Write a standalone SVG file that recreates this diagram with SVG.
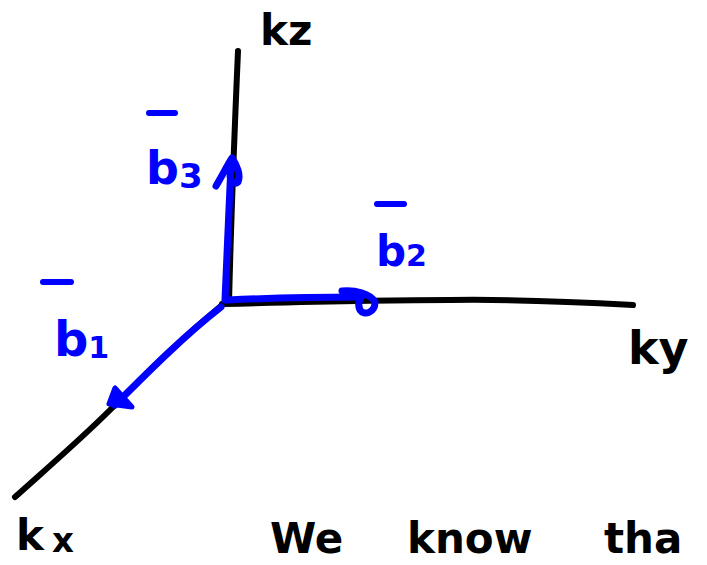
<svg xmlns="http://www.w3.org/2000/svg" width="707" height="565" viewBox="0 0 707 565">
<style>
.ax{fill:none;stroke:#000;stroke-width:6;stroke-linecap:round;stroke-linejoin:round}
.vec{fill:none;stroke:#0000ff;stroke-width:7;stroke-linecap:round;stroke-linejoin:round}
.head{fill:#0000ff;stroke:#0000ff;stroke-width:5;stroke-linejoin:round}
.bar{stroke:#0000ff;stroke-width:6;stroke-linecap:round}
.lk{font-family:"DejaVu Sans",sans-serif;font-weight:bold;fill:#000}
.lb{font-family:"DejaVu Sans",sans-serif;font-weight:bold;fill:#0000ff}
</style>
<rect width="707" height="565" fill="#fff"/>
<g id="axes">
<path class="ax" d="M238,51 C235,120 231,220 229,303"/>
<path class="ax" d="M222,304 C300,302 380,300 450,300 C520,299 580,302 633,305"/>
<path class="ax" d="M222,305 C180,340 150,370 110,410 C80,440 45,470 15,497"/>
</g>
<g id="vectors">
<g id="b3vec">
<path class="vec" d="M225,300 C227,250 229,210 231,165"/>
<path class="vec" d="M216,186 C222,176 228,164 232,158 C237,165 241,175 238,182 C234,186 228,180 231,170"/>
</g>
<g id="b2vec">
<path class="vec" d="M228,300 C270,298 320,297 360,297"/>
<path class="vec" d="M342,291 C355,290 370,293 375,302 C375,313 364,316 360,310 C357,304 360,298 362,296"/>
</g>
<g id="b1vec">
<path class="vec" d="M221,307 C185,335 150,370 115,405"/>
<path class="head" d="M115,388 L109,404 L132,407 Z"/>
</g>
</g>
<g id="label-kz"><text class="lk" x="260" y="45" font-size="42">kz</text></g>
<g id="label-ky"><text class="lk" x="628" y="364" font-size="46">ky</text></g>
<g id="label-kx"><text class="lk" x="16" y="550" font-size="42">k<tspan dx="8" dy="2" font-size="34">x</tspan></text></g>
<g id="label-b3">
<line class="bar" x1="149" y1="113" x2="175" y2="113"/>
<text class="lb" x="146" y="184" font-size="46">b<tspan font-size="34" dy="4">3</tspan></text>
</g>
<g id="label-b2">
<line class="bar" x1="377" y1="204" x2="404" y2="204"/>
<text class="lb" x="376" y="266" font-size="42">b<tspan font-size="30" dy="0">2</tspan></text>
</g>
<g id="label-b1">
<line class="bar" x1="43" y1="282" x2="71" y2="282"/>
<text class="lb" x="54" y="356" font-size="48">b<tspan font-size="30" dy="2">1</tspan></text>
</g>
<g id="note"><text class="lk" x="270" y="553" font-size="42">We<tspan x="407">know</tspan><tspan x="604">tha</tspan></text></g>
</svg>
